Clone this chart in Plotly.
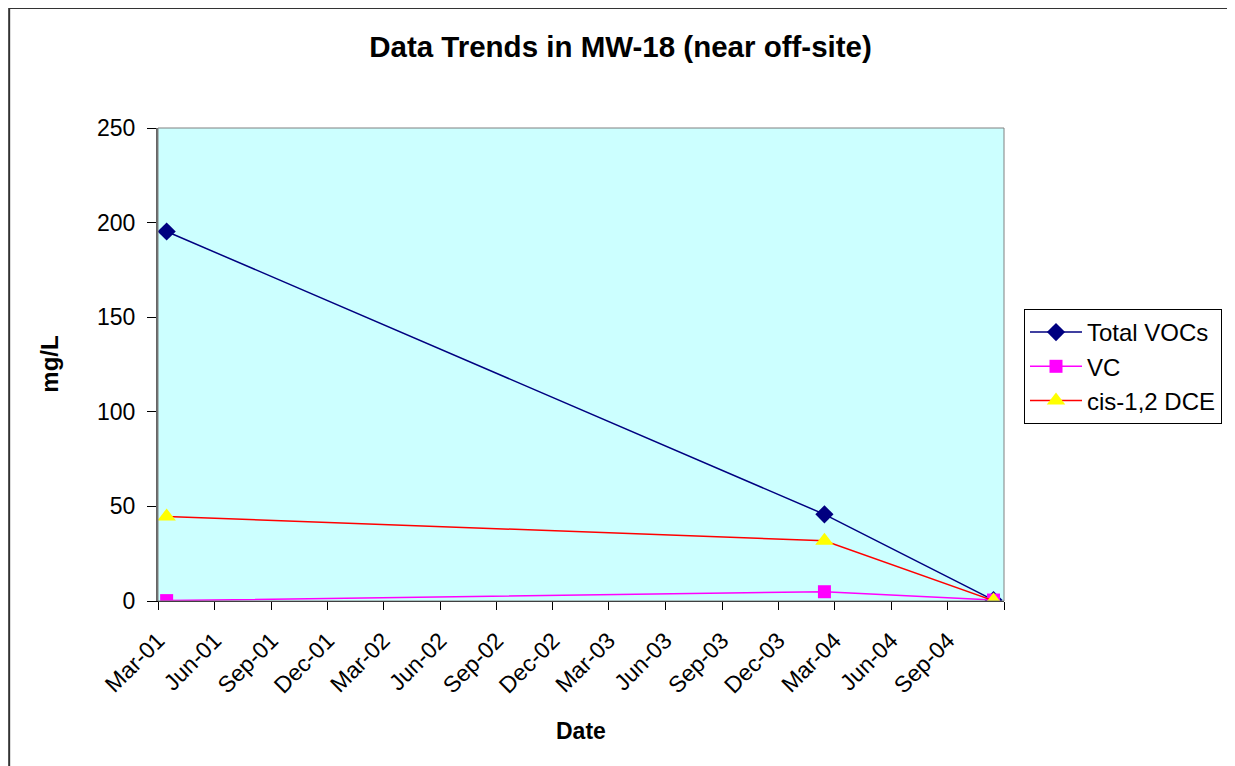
import plotly.graph_objects as go

dates = ["2001-03-15", "2004-02-14", "2004-11-14"]
total_vocs = [195.3, 45.8, 0.5]
vc = [0.2, 4.9, 0.5]
cis_dce = [44.7, 31.8, 0.2]

tick_dates = ["2001-03-01", "2001-06-01", "2001-09-01", "2001-12-01",
              "2002-03-01", "2002-06-01", "2002-09-01", "2002-12-01",
              "2003-03-01", "2003-06-01", "2003-09-01", "2003-12-01",
              "2004-03-01", "2004-06-01", "2004-09-01", "2004-12-01"]
tick_labels = ["Mar-01", "Jun-01", "Sep-01", "Dec-01",
               "Mar-02", "Jun-02", "Sep-02", "Dec-02",
               "Mar-03", "Jun-03", "Sep-03", "Dec-03",
               "Mar-04", "Jun-04", "Sep-04", ""]

FONT = "Liberation Sans, Arial, sans-serif"

W, H = 1225, 766
L, T = 150, 120
PW, PH = 847, 473
R = W - L - PW
B = H - T - PH

fig = go.Figure()
fig.add_trace(go.Scatter(x=dates, y=total_vocs, name="Total VOCs", mode="lines+markers",
                         line=dict(color="#000080", width=1.5),
                         marker=dict(symbol="diamond", size=14, color="#000080")))
fig.add_trace(go.Scatter(x=dates, y=vc, name="VC", mode="lines+markers",
                         line=dict(color="#FF00FF", width=1.5),
                         marker=dict(symbol="square", size=13, color="#FF00FF")))
fig.add_trace(go.Scatter(x=dates, y=cis_dce, name="cis-1,2 DCE", mode="lines+markers",
                         line=dict(color="#FF0000", width=1.5),
                         marker=dict(symbol="triangle-up", size=16, color="#FFFF00")))

fig.update_layout(
    width=W, height=H,
    margin=dict(l=L, r=R, t=T, b=B),
    paper_bgcolor="white",
    plot_bgcolor="#CCFFFF",
    font=dict(family=FONT, size=24, color="black"),
    title=dict(text="<b>Data Trends in MW-18 (near off-site)</b>",
               font=dict(size=29.5, family=FONT, color="black"),
               x=0.5, xref="container", xanchor="center",
               y=1 - 39 / H, yref="container", yanchor="middle"),
    showlegend=True,
    legend=dict(x=(1024 - 158) / PW, y=(601 - 309) / PH, xanchor="left", yanchor="top",
                bordercolor="black", borderwidth=1, bgcolor="white",
                font=dict(size=24, family=FONT), tracegroupgap=0,
                itemwidth=52),
    hovermode=False,
)

fig.update_xaxes(
    type="date",
    range=["2001-03-01", "2004-12-01"],
    tickmode="array", tickvals=tick_dates, ticktext=tick_labels,
    tickangle=-45,
    ticks="outside", ticklen=8, tickcolor="black", tickwidth=1,
    showline=True, linecolor="black", linewidth=1,
    showgrid=False, zeroline=False,
    tickfont=dict(size=23, family=FONT),
    ticklabelstandoff=8,
)
fig.update_yaxes(
    range=[0, 250], dtick=50,
    ticks="outside", ticklen=9, tickcolor="black", tickwidth=1,
    showline=True, linecolor="#666666", linewidth=2,
    showgrid=False, zeroline=False,
    tickfont=dict(size=23, family=FONT),
    ticklabelstandoff=7,
)

# plot area border (gray)
fig.add_shape(type="rect", xref="paper", yref="paper", x0=0, y0=0, x1=1, y1=1,
              line=dict(color="#808080", width=1), layer="above")
# outer chart border at the figure edges (bottom edge falls outside the view)
fig.add_shape(type="rect", xref="paper", yref="paper",
              x0=-(L - 1) / PW, x1=(W - 1 - L) / PW,
              y0=-(B + 40) / PH, y1=(T + PH - 0) / PH,
              line=dict(color="#333333", width=2), layer="above")

fig.add_annotation(text="<b>mg/L</b>", xref="paper", yref="paper",
                   x=(49 - 158) / PW, y=0.5, textangle=-90, showarrow=False,
                   xanchor="center", yanchor="middle", font=dict(size=24, family=FONT))
fig.add_annotation(text="<b>Date</b>", xref="paper", yref="paper",
                   x=0.5, y=(601 - 731) / PH, showarrow=False,
                   xanchor="center", yanchor="middle", font=dict(size=23, family=FONT))

fig.write_html("out.html")
